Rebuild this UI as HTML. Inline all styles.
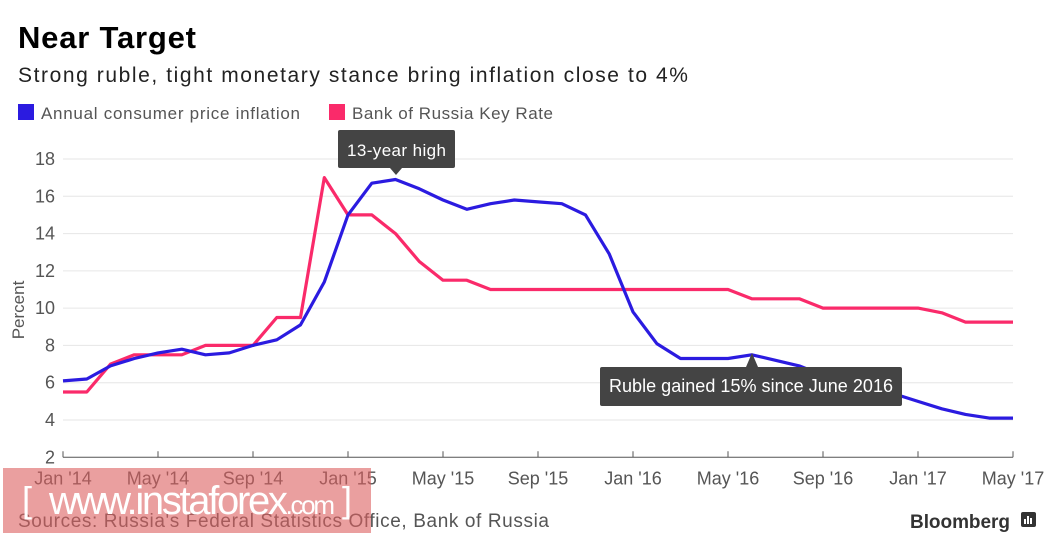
<!DOCTYPE html>
<html><head><meta charset="utf-8">
<style>
body{margin:0;background:#fff;font-family:"Liberation Sans",sans-serif;}
#wrap{position:relative;width:1050px;height:537px;overflow:hidden;}
</style></head>
<body>
<div id="wrap">
<svg id="chart" width="1050" height="537" xmlns="http://www.w3.org/2000/svg">
  <text x="18" y="48" font-size="31" font-weight="bold" fill="#000" textLength="178">Near Target</text>
  <text x="18" y="82" font-size="21" fill="#222" textLength="670">Strong ruble, tight monetary stance bring inflation close to 4%</text>
  <g>
    <rect x="18" y="104" width="16" height="16" fill="#2b1be0"/>
    <text x="41" y="119" font-size="17" fill="#555" textLength="259">Annual consumer price inflation</text>
    <rect x="329" y="104" width="16" height="16" fill="#fa2a6a"/>
    <text x="352" y="119" font-size="17" fill="#555" textLength="201">Bank of Russia Key Rate</text>
  </g>
  <g id="grid"></g>
  <g id="axes"></g>
  <g id="series"></g>
  <text transform="translate(24,310) rotate(-90)" text-anchor="middle" font-size="17" fill="#555">Percent</text>
  <g>
    <rect x="338" y="130" width="117" height="38" rx="2" fill="#444"/>
    <path d="M390 168 L396 175 L402 168 Z" fill="#444"/>
    <text x="396.5" y="156" text-anchor="middle" font-size="17" fill="#fff" textLength="99">13-year high</text>
  </g>
  <g>
    <rect x="600" y="367" width="302" height="39" rx="2" fill="#444"/>
    <path d="M746 367 L752 353 L758 367 Z" fill="#444"/>
    <text x="751" y="392" text-anchor="middle" font-size="18" fill="#fff" textLength="284">Ruble gained 15% since June 2016</text>
  </g>
  <text x="18" y="527" font-size="19" fill="#555" textLength="531">Sources: Russia's Federal Statistics Office, Bank of Russia</text>
  <text x="1010" y="528" text-anchor="end" font-size="19" font-weight="bold" fill="#333" textLength="100">Bloomberg</text>
  <g>
    <rect x="1021" y="512" width="15" height="15" rx="2" fill="#333"/>
    <rect x="1024" y="519" width="2" height="5" fill="#fff"/><rect x="1027" y="516" width="2" height="8" fill="#fff"/><rect x="1030" y="518" width="2" height="6" fill="#fff"/>
  </g>
  <g>
    <rect x="3" y="468" width="368" height="65" fill="rgba(220,95,95,0.6)"/>
    <text x="22" y="512" font-size="36" fill="#fff">[</text>
    <text x="49" y="514" font-size="40" fill="#fff" textLength="286">www.instaforex<tspan font-size="26">.com</tspan></text>
    <text x="342" y="512" font-size="36" fill="#fff">]</text>
  </g>
</svg>
</div>
<script>
const yTicks = [2,4,6,8,10,12,14,16,18];
const xTickLabels = ["Jan '14","May '14","Sep '14","Jan '15","May '15","Sep '15","Jan '16","May '16","Sep '16","Jan '17","May '17"];
const xTickMonths = [0,4,8,12,16,20,24,28,32,36,40];
const cpi = [6.1,6.2,6.9,7.3,7.6,7.8,7.5,7.6,8.0,8.3,9.1,11.4,15.0,16.7,16.9,16.4,15.8,15.3,15.6,15.8,15.7,15.6,15.0,12.9,9.8,8.1,7.3,7.3,7.3,7.5,7.2,6.9,6.4,6.1,5.8,5.4,5.0,4.6,4.3,4.1,4.1];
const keyRate = [5.5,5.5,7.0,7.5,7.5,7.5,8.0,8.0,8.0,9.5,9.5,17.0,15.0,15.0,14.0,12.5,11.5,11.5,11.0,11.0,11.0,11.0,11.0,11.0,11.0,11.0,11.0,11.0,11.0,10.5,10.5,10.5,10.0,10.0,10.0,10.0,10.0,9.75,9.25,9.25,9.25];

const NS = "http://www.w3.org/2000/svg";
const x0 = 63, x1 = 1013, nMonths = 40;
const xScale = m => x0 + m * (x1 - x0) / nMonths;
const yScale = v => 420 - (v - 4) * (420 - 159) / 14;

const grid = document.getElementById('grid');
const axes = document.getElementById('axes');
const series = document.getElementById('series');

function mk(tag, attrs, parent){
  const e = document.createElementNS(NS, tag);
  for (const k in attrs) e.setAttribute(k, attrs[k]);
  parent.appendChild(e);
  return e;
}

yTicks.forEach(v => {
  const y = yScale(v);
  if (v !== 2) {
    const l = mk('line', {x1: x0, x2: x1, y1: y, y2: y, stroke: '#e6e6e6', 'stroke-width': 1}, grid);
    
    
  }
  const t = mk('text', {x: 55, y: y + 6, 'text-anchor': 'end', 'font-size': 18, fill: '#555'}, axes);
  t.textContent = v;
  
  
});

const base = yScale(2);
const ax = mk('line', {x1: x0, x2: x1, y1: base, y2: base, stroke: '#555', 'stroke-width': 1}, axes);



xTickMonths.forEach((m, i) => {
  const x = xScale(m);
  const tk = mk('line', {x1: x, x2: x, y1: base, y2: base - 6, stroke: '#555', 'stroke-width': 1}, axes);
  
  
  const t = mk('text', {x: x, y: base + 27, 'text-anchor': 'middle', 'font-size': 18, fill: '#555'}, axes);
  t.textContent = xTickLabels[i];
  
  
});

function drawLine(vals, color, name){
  const d = vals.map((v, i) => (i ? 'L' : 'M') + xScale(i).toFixed(1) + ' ' + yScale(v).toFixed(1)).join(' ');
  const p = mk('path', {d: d, fill: 'none', stroke: color, 'stroke-width': 3.2, 'stroke-linejoin': 'round'}, series);
  
  
}
drawLine(keyRate, '#fa2a6a', 'key-rate-line');
drawLine(cpi, '#2b1be0', 'cpi-line');
</script>
</body></html>
